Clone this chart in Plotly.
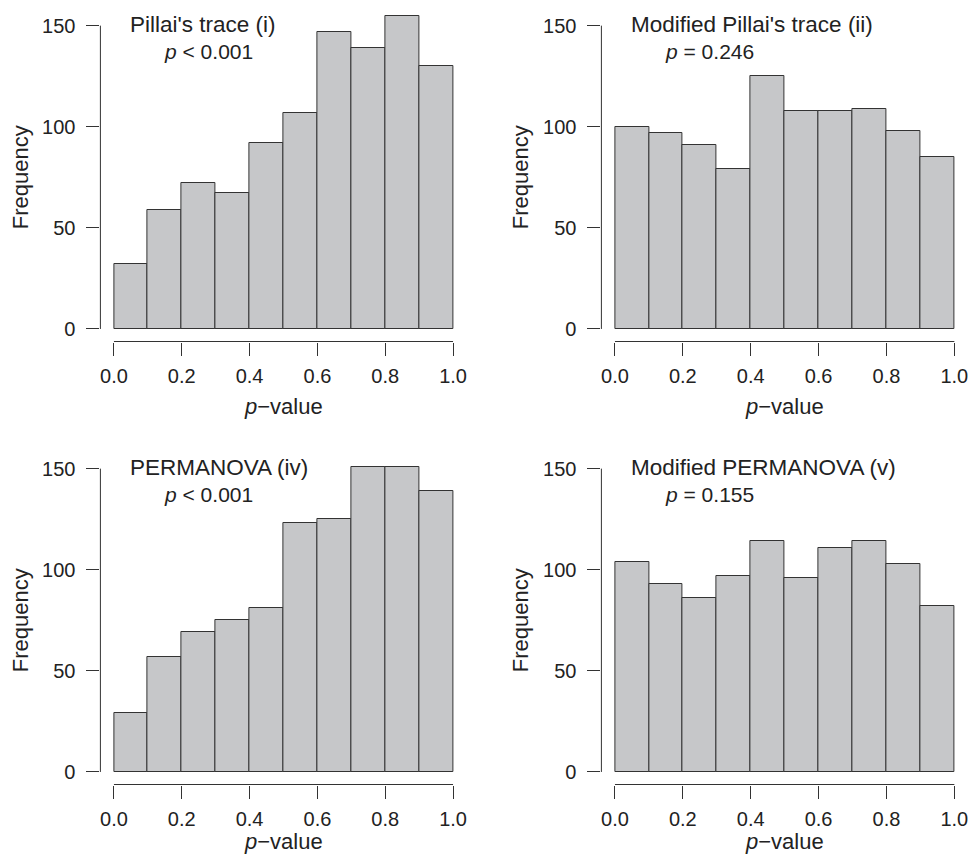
import plotly.graph_objects as go

# ---------------- data ----------------
bin_edges = [0.0, 0.1, 0.2, 0.3, 0.4, 0.5, 0.6, 0.7, 0.8, 0.9, 1.0]
pillai = [32, 59, 72, 67, 92, 107, 147, 139, 155, 130]
mod_pillai = [100, 97, 91, 79, 125, 108, 108, 109, 98, 85]
permanova = [29, 57, 69, 75, 81, 123, 125, 151, 151, 139]
mod_permanova = [104, 93, 86, 97, 114, 96, 111, 114, 103, 82]

panel_titles = ["Pillai's trace (i)", "Modified Pillai's trace (ii)",
                "PERMANOVA (iv)", "Modified PERMANOVA (v)"]
p_labels = ["<i>p</i> < 0.001", "<i>p</i> = 0.246",
            "<i>p</i> < 0.001", "<i>p</i> = 0.155"]
x_ticks = [0.0, 0.2, 0.4, 0.6, 0.8, 1.0]
y_ticks = [0, 50, 100, 150]

series = [pillai, mod_pillai, permanova, mod_permanova]

# ---------------- layout geometry (pixels) ----------------
W, H = 971, 856
FONT = "Liberation Sans, Arial, Helvetica, sans-serif"
TXT = "#222222"
LINE = "#333333"
FILL = "#C6C7C9"

# plot regions in pixels: (left, right, top, bottom)
regions = [
    (100.4, 466.6, 3.0, 341.5),
    (601.4, 967.9, 3.0, 341.5),
    (100.4, 466.6, 446.0, 784.5),
    (601.4, 967.9, 446.0, 784.5),
]
freq_x = [20, 520, 20, 520]
freq_dy = 5                      # Frequency label offset below region centre
pval_y = [406.5, 406.5, 841.5, 841.5]   # p-value label centre (px)

xr = [-0.04, 1.04]
yr = [-6.2, 161.2]

fig = go.Figure()
centers = [(a + b) / 2 for a, b in zip(bin_edges[:-1], bin_edges[1:])]
widths = [b - a for a, b in zip(bin_edges[:-1], bin_edges[1:])]

annotations = []
shapes = []
for i, (vals, (l, r, t, b)) in enumerate(zip(series, regions)):
    n = "" if i == 0 else str(i + 1)
    xa, ya = "x" + n, "y" + n
    fig.add_trace(go.Bar(
        x=centers, y=vals, width=widths, xaxis=xa, yaxis=ya,
        marker=dict(color=FILL, line=dict(color=LINE, width=1)),
        showlegend=False, hoverinfo="x+y"))
    common = dict(showgrid=False, zeroline=False, showline=False,
                  ticks="outside", ticklen=13, tickwidth=1, tickcolor=LINE,
                  tickfont=dict(family=FONT, size=20, color=TXT))
    fig.layout["xaxis" + n] = dict(
        domain=[l / W, r / W], range=xr, anchor=ya,
        tickvals=x_ticks, tickformat=".1f", ticklabelstandoff=3, **common)
    fig.layout["yaxis" + n] = dict(
        domain=[1 - b / H, 1 - t / H], range=yr, anchor=xa,
        tickvals=y_ticks, ticklabelstandoff=7, **common)
    # axis lines spanning only the tick range (R style)
    shapes.append(dict(type="line", xref=xa, yref=ya + " domain",
                       x0=x_ticks[0], x1=x_ticks[-1], y0=0, y1=0,
                       line=dict(color=LINE, width=1)))
    shapes.append(dict(type="line", xref=xa + " domain", yref=ya,
                       x0=0, x1=0, y0=y_ticks[0], y1=y_ticks[-1],
                       line=dict(color=LINE, width=1)))
    # titles inside plot
    annotations.append(dict(text=panel_titles[i], xref=xa, yref=ya,
                            x=0.042, y=150.8, xanchor="left", yanchor="middle",
                            showarrow=False,
                            font=dict(family=FONT, size=22.5, color=TXT)))
    annotations.append(dict(text=p_labels[i], xref=xa, yref=ya,
                            x=0.141, y=137.0, xanchor="left", yanchor="middle",
                            showarrow=False,
                            font=dict(family=FONT, size=21, color=TXT)))
    # axis titles
    annotations.append(dict(text="<i>p</i>\u2212value", xref=xa, yref="paper",
                            x=0.5, y=1 - pval_y[i] / H,
                            xanchor="center", yanchor="middle", showarrow=False,
                            borderpad=0,
                            font=dict(family=FONT, size=22, color=TXT)))
    annotations.append(dict(text="Frequency", xref="paper", yref="paper",
                            x=freq_x[i] / W, y=1 - ((t + b) / 2 + freq_dy) / H,
                            xanchor="center", yanchor="middle", textangle=-90,
                            showarrow=False,
                            font=dict(family=FONT, size=22, color=TXT)))

fig.update_layout(width=W, height=H, margin=dict(l=0, r=0, t=0, b=0),
                  paper_bgcolor="white", plot_bgcolor="white",
                  bargap=0, annotations=annotations, shapes=shapes,
                  font=dict(family=FONT, color=TXT))

fig.write_html("out.html", config={"displayModeBar": False},
               post_script="document.body.style.margin='0';"
                           "document.body.style.overflow='hidden';")
